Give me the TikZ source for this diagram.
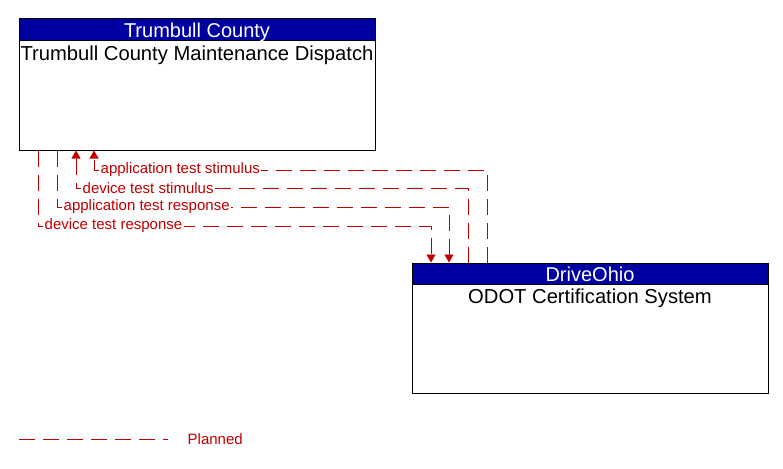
\documentclass[tikz,border=0pt]{standalone}
\usepackage{fontspec}
\setmainfont{Liberation Sans}
\usetikzlibrary{arrows.meta}
\definecolor{planred}{RGB}{192,0,0}
\definecolor{hdrblue}{RGB}{0,0,160}
\tikzset{
  sysbox/.style={draw, line width=1pt, minimum width=356pt, minimum height=131pt, inner sep=0pt},
  hdrbox/.style={draw, line width=1pt, fill=hdrblue, text=white, minimum width=356pt, minimum height=22pt, inner sep=0pt, text height=18pt, text depth=2pt, font=\fontsize{20}{21}\selectfont},
  titletext/.style={inner sep=0pt, font=\fontsize{20.2}{21}\selectfont},
  flow/.style={draw=planred, line width=0.8pt, dash pattern=on 16pt off 8pt},
  flowtip/.style={-{Triangle[length=8pt,width=9pt]}},
  flowlabel/.style={fill=white, text=planred, inner sep=1.5pt, anchor=west, font=\fontsize{15}{16}\selectfont}
}
\begin{document}
\begin{tikzpicture}[x=1pt, y=-1pt]
        \useasboundingbox (0,0) rectangle (783,468);
        % Define the systems
        \node[sysbox] (tcmd) at (197,84.5) {};
        \node[hdrbox, anchor=north] (tcmd-hdr) at (tcmd.north) {Trumbull County};
        \node[titletext, anchor=base] (tcmd-name) at ([yshift=-42.5pt]tcmd.north) {Trumbull County Maintenance Dispatch};
        \node[sysbox, minimum height=130pt] (odot) at (590,328) {};
        \node[hdrbox, minimum height=21pt, anchor=north] (odot-hdr) at (odot.north) {DriveOhio};
        \node[titletext, anchor=base] (odot-name) at ([yshift=-41pt]odot.north) {ODOT Certification System};

        % Define the bends
        \coordinate (ats-a) at (94,170);
        \coordinate (ats-b) at (487,170);
        \coordinate (dts-a) at (76,188);
        \coordinate (dts-b) at (468,188);
        \coordinate (atr-a) at (57,207);
        \coordinate (atr-b) at (449,207);
        \coordinate (dtr-a) at (38,226);
        \coordinate (dtr-b) at (431,226);

        % Define the flows
        \draw[flow, flowtip] (ats-b |- odot.north) -- (ats-b) -- (ats-a) -- (ats-a |- tcmd.south);
        \draw[flow, flowtip] (dts-b |- odot.north) -- (dts-b) -- (dts-a) -- (dts-a |- tcmd.south);
        \draw[flow, flowtip] (atr-a |- tcmd.south) -- (atr-a) -- (atr-b) -- (atr-b |- odot.north);
        \draw[flow, flowtip] (dtr-a |- tcmd.south) -- (dtr-a) -- (dtr-b) -- (dtr-b |- odot.north);
        \node[flowlabel] (ats-lbl) at ([xshift=5pt]ats-a) {application test stimulus};
        \node[flowlabel] (dts-lbl) at ([xshift=5pt]dts-a) {device test stimulus};
        \node[flowlabel] (atr-lbl) at ([xshift=5pt]atr-a) {application test response};
        \node[flowlabel] (dtr-lbl) at ([xshift=5pt]dtr-a) {device test response};

        % Define the legend
        \coordinate (key-a) at (19,439);
        \coordinate (key-b) at (168,439);
        \draw[flow] (key-a) -- (key-b);
        \node[flowlabel, fill=none] (key-lbl) at ([xshift=18pt]key-b) {Planned};
    \end{tikzpicture}
\end{document}
